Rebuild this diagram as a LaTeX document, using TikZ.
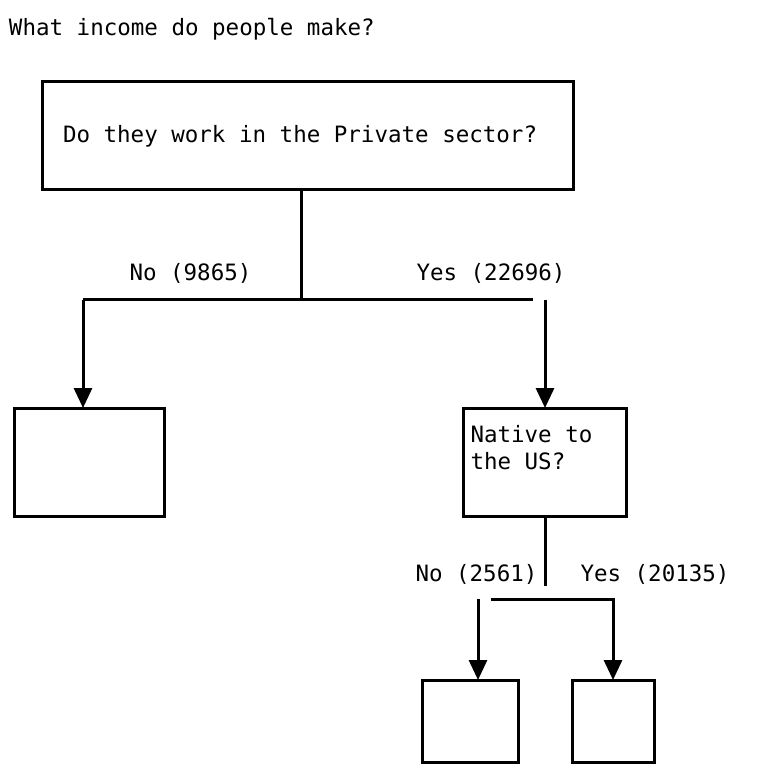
\documentclass[tikz,border=0pt]{standalone}
\usepackage{fontspec}
\setmonofont{DejaVu Sans Mono}
\usepackage{tikz}
\usetikzlibrary{arrows.meta,positioning}
\tikzstyle{block}=[draw, rectangle, line width=1.5pt, anchor=north west, inner sep=0pt, outer sep=0pt]
\tikzstyle{branch}=[anchor=base west, inner sep=0pt]

\begin{document}
\begin{tikzpicture}[x=0.5pt, y=-0.5pt, line width=1.5pt, >={Triangle[width=9pt,length=10pt]},
    font=\ttfamily\fontsize{11.25}{13.5}\selectfont]
    \useasboundingbox (0,0) rectangle (756,774);
    \node [branch] (title) at (7.5,36) {What income do people make?};
    % question boxes
    \node [block, minimum height=54pt, inner xsep=10.5pt] (private) at (42,82) {\makebox[244.5pt][l]{Do they work in the Private sector?}};
    \node [block, inner xsep=3.5pt, text height=17pt, text depth=37pt] (native) at (463.5,408) {\parbox[t]{74.5pt}{Native to\\the US?}};
    % leaves
    \node [block, minimum width=75pt, minimum height=54pt] (public) at (14.5,408) {};
    \node [block, minimum width=48pt, minimum height=41pt] (foreign) at (422.5,680) {};
    \node [block, minimum width=41pt, minimum height=41pt] (usborn) at (572.5,680) {};
    % first split
    \coordinate (fork1) at (301,300);
    \coordinate (nodown) at (83,300);
    \coordinate (yesend) at (533,300);
    \coordinate (yesdown) at (545,300);
    \draw (fork1 |- private.south) -- (fork1);
    \draw (nodown) -- (yesend);
    \draw[->] (nodown) -- (nodown |- public.north);
    \draw[->] (yesdown) -- (yesdown |- native.north);
    \node [branch] (no1) at (128,281) {No (9865)};
    \node [branch] (yes1) at (415,281) {Yes (22696)};
    % second split
    \coordinate (fork2) at (545,586);
    \coordinate (nodown2) at (478,599);
    \coordinate (yesstart2) at (491,599);
    \coordinate (yescorner2) at (613,599);
    \draw (fork2 |- native.south) -- (fork2);
    \draw[->] (nodown2) -- (nodown2 |- foreign.north);
    \draw[->] (yesstart2) -- (yescorner2) -- (yescorner2 |- usborn.north);
    \node [branch] (no2) at (414,581) {No (2561)};
    \node [branch] (yes2) at (579,581) {Yes (20135)};
\end{tikzpicture}
\end{document}
